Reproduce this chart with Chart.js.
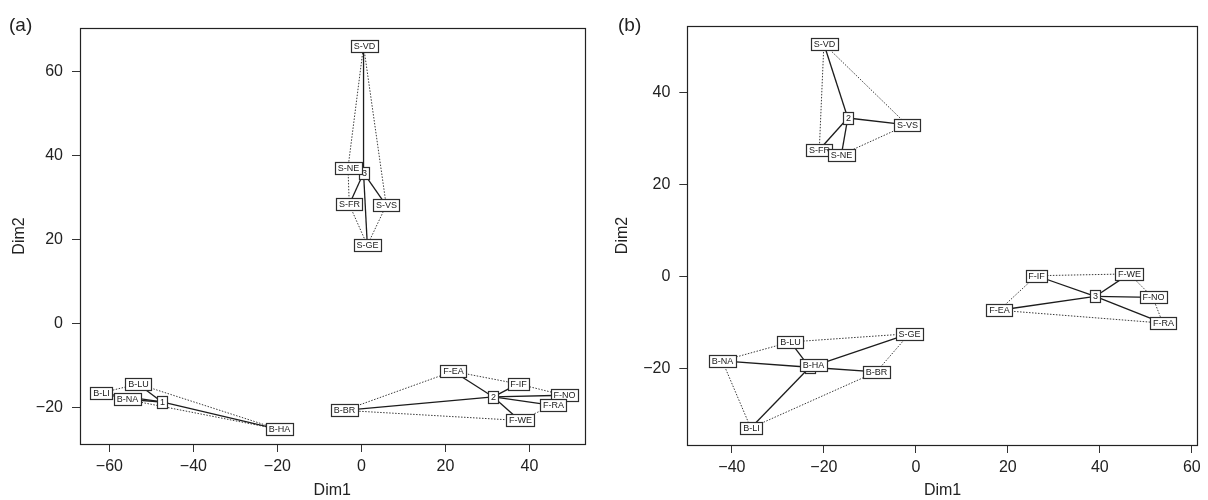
<!DOCTYPE html>
<html>
<head>
<meta charset="utf-8">
<script src="https://cdn.jsdelivr.net/npm/chart.js@4.4.1/dist/chart.umd.min.js"></script>
<style>
  html, body { margin: 0; padding: 0; background: #fff; }
  #wrap { position: relative; width: 1208px; height: 500px; }
  canvas { position: absolute; top: 0; }
  #panelA { left: 0; }
  #panelB { left: 604px; }
</style>
</head>
<body>
<div id="wrap">
  <canvas id="panelA" width="604" height="500"></canvas>
  <canvas id="panelB" width="604" height="500"></canvas>
</div>
<script>
// ---- Panel (a): site coordinates, group membership and group centres ----
const sitesA   = ['B-LI', 'B-LU', 'B-NA', 'B-HA', 'B-BR', 'F-EA', 'F-IF', 'F-NO', 'F-RA', 'F-WE', 'S-VD', 'S-NE', 'S-FR', 'S-VS', 'S-GE'];
const dim1A    = [-62.1, -53.2, -55.9, -19.7, -4.1, 21.8, 37.3, 48.2, 45.5, 37.7, 0.5, -3.2, -2.9, 5.9, 1.4];
const dim2A    = [-16.6, -14.4, -18.1, -25.2, -20.7, -11.4, -14.4, -17.1, -19.5, -23.1, 66.1, 37.0, 28.3, 28.1, 18.6];
const groupA   = [1, 1, 1, 1, 2, 2, 2, 2, 2, 2, 3, 3, 3, 3, 3];
const centreA     = ['1', '2', '3'];
const centreDim1A = [-47.5, 31.4, 0.5];
const centreDim2A = [-18.7, -17.5, 35.8];

// ---- Panel (b) ----
const sitesB   = ['B-NA', 'B-LU', 'B-HA', 'B-BR', 'B-LI', 'S-GE', 'S-VD', 'S-VS', 'S-FR', 'S-NE', 'F-IF', 'F-WE', 'F-NO', 'F-EA', 'F-RA'];
const dim1B    = [-42.1, -27.3, -22.4, -8.6, -35.9, -1.4, -20.0, -1.9, -21.0, -16.2, 26.2, 46.4, 51.5, 18.1, 53.7];
const dim2B    = [-18.3, -14.2, -19.1, -20.7, -32.9, -12.4, 50.6, 33.0, 27.6, 26.5, 0.2, 0.6, -4.5, -7.3, -10.1];
const groupB   = [1, 1, 1, 1, 1, 1, 2, 2, 2, 2, 3, 3, 3, 3, 3];
const centreB     = ['1', '2', '3'];
const centreDim1B = [-23.1, -14.8, 39.0];
const centreDim2B = [-19.7, 34.5, -4.3];

// Axis ticks
const ticksA = { x: [-60, -40, -20, 0, 20, 40], y: [-20, 0, 20, 40, 60] };
const ticksB = { x: [-40, -20, 0, 20, 40, 60], y: [-20, 0, 20, 40] };

const FONT = '"Liberation Sans", Arial, Helvetica, sans-serif';
const minus = v => (v < 0 ? '\u2212' + Math.abs(v) : String(v));

// Convex hull (monotone chain), returned as a closed ring
function hull(points) {
  const pts = points.slice().sort((a, b) => a.x - b.x || a.y - b.y);
  const cross = (o, a, b) => (a.x - o.x) * (b.y - o.y) - (a.y - o.y) * (b.x - o.x);
  const lower = [], upper = [];
  for (const p of pts) {
    while (lower.length >= 2 && cross(lower[lower.length - 2], lower[lower.length - 1], p) <= 0) lower.pop();
    lower.push(p);
  }
  for (let i = pts.length - 1; i >= 0; i--) {
    const p = pts[i];
    while (upper.length >= 2 && cross(upper[upper.length - 2], upper[upper.length - 1], p) <= 0) upper.pop();
    upper.push(p);
  }
  upper.pop(); lower.pop();
  const ring = lower.concat(upper);
  ring.push(ring[0]);
  return ring;
}

function buildDatasets(d1, d2, groups, cd1, cd2) {
  const spokes = [], rings = [];
  const line = { showLine: true, pointRadius: 0, pointHoverRadius: 0, tension: 0, fill: false };
  cd1.forEach((cx, g) => {
    const cy = cd2[g];
    const members = [];
    groups.forEach((grp, i) => {
      if (grp !== g + 1) return;
      members.push({ x: d1[i], y: d2[i] });
      spokes.push(Object.assign({
        data: [{ x: cx, y: cy }, { x: d1[i], y: d2[i] }],
        borderColor: '#1c1c1c', borderWidth: 1.3
      }, line));
    });
    rings.push(Object.assign({
      data: hull(members),
      borderColor: '#3a3a3a', borderWidth: 1, borderDash: [1.5, 1.5]
    }, line));
  });
  return spokes.concat(rings);
}

// White boxed labels for sites and group centres
const boxLabels = {
  id: 'boxLabels',
  afterDatasetsDraw(chart, args, opts) {
    const { ctx } = chart;
    const xs = chart.scales.x, ys = chart.scales.y;
    ctx.save();
    ctx.font = '9px "Liberation Sans Narrow", ' + FONT;
    ctx.textAlign = 'center';
    ctx.textBaseline = 'middle';
    for (const it of opts.items) {
      const px = Math.round(xs.getPixelForValue(it.x));
      const py = Math.round(ys.getPixelForValue(it.y));
      const w = Math.round(ctx.measureText(it.text).width) + 5;
      const h = 12;
      const l = px - Math.floor(w / 2) + 0.5, t = py - h / 2 + 0.5;
      ctx.fillStyle = '#fff';
      ctx.fillRect(l, t, w, h);
      ctx.strokeStyle = '#2e2e2e';
      ctx.lineWidth = 1.2;
      ctx.strokeRect(l, t, w, h);
      ctx.fillStyle = '#1a1a1a';
      ctx.fillText(it.text, px + 0.5, py + 1);
    }
    ctx.restore();
  }
};

// Plot frame and panel tag
const frame = {
  id: 'frame',
  beforeDatasetsDraw(chart) {
    const { ctx, chartArea: a } = chart;
    ctx.save();
    ctx.strokeStyle = '#222';
    ctx.lineWidth = 1.2;
    ctx.strokeRect(Math.round(a.left) + 0.5, Math.round(a.top) + 0.5,
                   Math.round(a.right - a.left), Math.round(a.bottom - a.top));
    ctx.restore();
  },
  afterDraw(chart, args, opts) {
    const { ctx } = chart;
    ctx.save();
    ctx.font = '19px ' + FONT;
    ctx.fillStyle = '#222';
    ctx.textBaseline = 'alphabetic';
    ctx.fillText(opts.tag, opts.tagX, opts.tagY);
    ctx.restore();
  }
};

function makePanel(canvasId, cfg) {
  const items = cfg.centre.map((c, i) => ({ text: c, x: cfg.cd1[i], y: cfg.cd2[i] }))
    .concat(cfg.sites.map((s, i) => ({ text: s, x: cfg.d1[i], y: cfg.d2[i] })));
  const axis = (range, tickVals, width, isX, titlePad) => ({
    type: 'linear',
    position: isX ? 'bottom' : 'left',
    min: range[0], max: range[1],
    afterFit(s) { if (isX) s.height = width; else s.width = width; },
    afterBuildTicks(s) { s.ticks = tickVals.map(v => ({ value: v })); },
    grid: { display: true, drawOnChartArea: false, drawTicks: true, tickLength: 8, tickColor: '#333', tickWidth: 1 },
    border: { display: false },
    ticks: {
      font: { family: FONT, size: 16 }, color: '#222',
      padding: isX ? 5 : 9, maxRotation: 0, autoSkip: false,
      callback: v => minus(v)
    },
    title: {
      display: true, text: isX ? 'Dim1' : 'Dim2',
      font: { family: FONT, size: 16 }, color: '#222',
      padding: titlePad
    }
  });
  return new Chart(document.getElementById(canvasId), {
    type: 'scatter',
    data: { datasets: buildDatasets(cfg.d1, cfg.d2, cfg.groups, cfg.cd1, cfg.cd2) },
    options: {
      responsive: false, animation: false, devicePixelRatio: 1,
      layout: { padding: cfg.padding },
      scales: {
        x: axis(cfg.xRange, cfg.ticks.x, cfg.xAxisH, true, { top: 0, bottom: 0 }),
        y: axis(cfg.yRange, cfg.ticks.y, cfg.yAxisW, false, { top: cfg.yTitlePad, bottom: 0 })
      },
      plugins: {
        legend: { display: false }, tooltip: { enabled: false },
        boxLabels: { items },
        frame: { tag: cfg.tag, tagX: cfg.tagX, tagY: 31 }
      }
    },
    plugins: [frame, boxLabels]
  });
}

makePanel('panelA', {
  sites: sitesA, d1: dim1A, d2: dim2A, groups: groupA,
  centre: centreA, cd1: centreDim1A, cd2: centreDim2A,
  xRange: [-67, 53.1], yRange: [-28.7, 70.3], ticks: ticksA,
  padding: { left: 0, top: 28, right: 19.5, bottom: 0 },
  yAxisW: 80, xAxisH: 56, yTitlePad: 9.5,
  tag: '(a)', tagX: 9
});

makePanel('panelB', {
  sites: sitesB, d1: dim1B, d2: dim2B, groups: groupB,
  centre: centreB, cd1: centreDim1B, cd2: centreDim2B,
  xRange: [-49.7, 61.3], yRange: [-36.6, 54.5], ticks: ticksB,
  padding: { left: 0, top: 26, right: 10.2, bottom: 0 },
  yAxisW: 83.3, xAxisH: 55, yTitlePad: 8.5,
  tag: '(b)', tagX: 14
});
</script>
</body>
</html>
